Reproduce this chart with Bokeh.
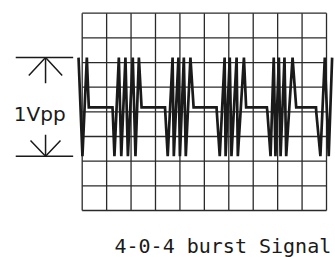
from bokeh.plotting import figure
from bokeh.models import Range1d
from bokeh.core.properties import value
from bokeh.embed import file_html
from bokeh.resources import INLINE

# ---- data (time in divisions, voltage in V; 0.25 V/div) ----
grid_x_ticks = [0, 1, 2, 3, 4, 5, 6, 7, 8, 9, 10]
grid_y_ticks = [-1.0, -0.75, -0.5, -0.25, 0.0, 0.25, 0.5, 0.75, 1.0]

signal_t = [-0.15, 0.01, 0.19, 0.27,
            1.24, 1.25, 1.32, 1.50, 1.60, 1.77, 1.87, 2.07, 2.18, 2.32, 2.43,
            3.39, 3.40, 3.50, 3.70, 3.75, 3.94, 4.00, 4.16, 4.24, 4.43, 4.56,
            5.50, 5.51, 5.63, 5.83, 5.87, 6.04, 6.11, 6.32, 6.37, 6.62, 6.71,
            7.56, 7.58, 7.71, 7.84, 7.91, 8.05, 8.12, 8.28, 8.35, 8.61, 8.76,
            9.57, 9.58, 9.75, 9.93, 10.09, 10.23]
signal_v = [0.55, -0.45, 0.55, 0.045,
            0.045, 0.0, -0.45, 0.55, -0.45, 0.55, -0.45, 0.55, -0.45, 0.55, 0.045,
            0.045, 0.0, -0.45, 0.55, -0.45, 0.55, -0.45, 0.55, -0.45, 0.55, 0.045,
            0.045, 0.0, -0.45, 0.55, -0.45, 0.55, -0.45, 0.55, -0.45, 0.55, 0.045,
            0.045, 0.0, -0.45, 0.55, -0.45, 0.55, -0.45, 0.55, -0.45, 0.55, 0.045,
            0.045, 0.0, -0.45, 0.55, -0.45, 0.55]

vpp_top = 0.55
vpp_bottom = -0.45
vpp_label = "1Vpp"
caption = "4-0-4 burst Signal"

INK = "#1a1a1a"

p = figure(width=335, height=257, output_backend="svg", toolbar_location=None,
           x_range=Range1d(-3.344, 10.368), y_range=Range1d(-1.4766, 1.1289),
           x_axis_location=None, y_axis_location=None, min_border=0,
           background_fill_color="white", border_fill_color="white")
p.grid.visible = False
p.outline_line_color = None

# graticule
x0, x1 = grid_x_ticks[0], grid_x_ticks[-1]
y0, y1 = grid_y_ticks[0], grid_y_ticks[-1]
p.segment(x0=grid_x_ticks, y0=[y0] * len(grid_x_ticks),
          x1=grid_x_ticks, y1=[y1] * len(grid_x_ticks),
          line_color="#2a2a2a", line_width=1.3)
p.segment(x0=[x0] * len(grid_y_ticks), y0=grid_y_ticks,
          x1=[x1] * len(grid_y_ticks), y1=grid_y_ticks,
          line_color="#2a2a2a", line_width=1.3)

# signal trace
p.line(signal_t, signal_v, line_color=INK, line_width=2.7, line_join="miter")

# 1Vpp dimension marker
lx0, lx1, ax = -2.72, -0.37, -1.50
p.segment(x0=[lx0, lx0], y0=[vpp_top, vpp_bottom], x1=[lx1, lx1], y1=[vpp_top, vpp_bottom],
          line_color=INK, line_width=1.5)
p.segment(x0=[ax, ax], y0=[vpp_top, vpp_bottom], x1=[ax, ax], y1=[0.29, -0.233],
          line_color=INK, line_width=1.5)
p.line([-2.186, ax, -0.819], [0.368, vpp_top, 0.368], line_color=INK, line_width=1.5)
p.line([-2.116, ax, -0.888], [-0.29, vpp_bottom, -0.29], line_color=INK, line_width=1.5)

p.text(x=[-2.80], y=[-0.022], text=[vpp_label], text_font=value("DejaVu Sans"),
       text_font_size=value("20px"), text_color=INK, text_baseline="alphabetic",
       text_align="left")
p.text(x=[1.322], y=[-1.365], text=[caption], text_font=value("DejaVu Sans Mono"),
       text_font_size=value("20px"), text_color=INK, text_baseline="alphabetic",
       text_align="left")

open("out.html", "w").write(file_html(p, INLINE))
